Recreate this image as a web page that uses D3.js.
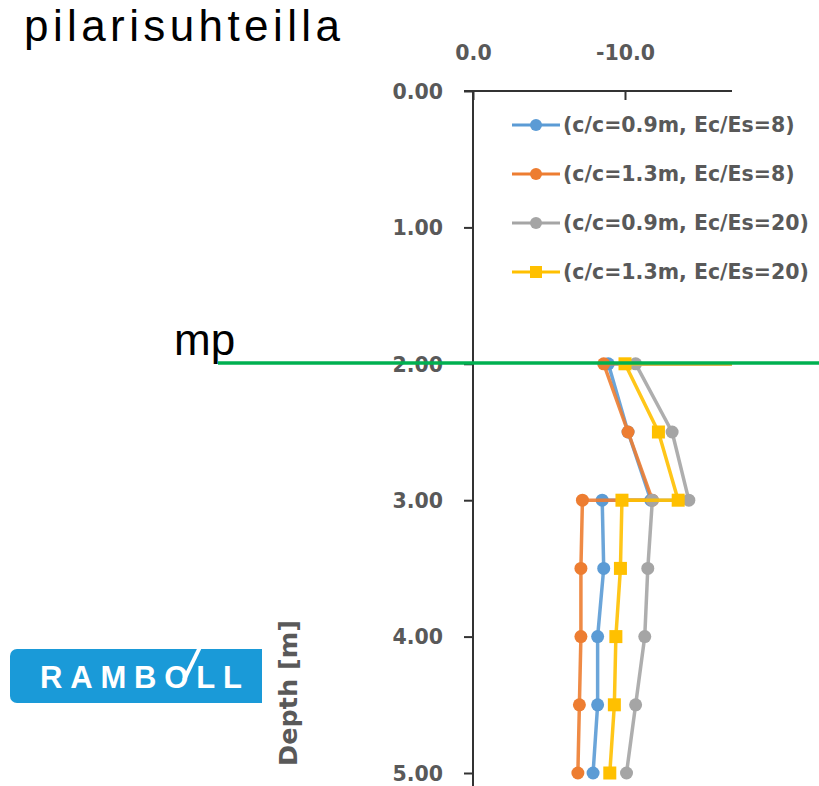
<!DOCTYPE html>
<html>
<head>
<meta charset="utf-8">
<script src="https://cdn.jsdelivr.net/npm/d3@7"></script>
<style>
  html, body { margin: 0; padding: 0; background: #fff; }
  svg { display: block; }
</style>
</head>
<body>
<script>
// ---- data ----
const depths = [2.0, 2.0, 2.5, 3.0, 3.0, 3.5, 4.0, 4.5, 5.0];
const seriesNames = [
  "(c/c=0.9m, Ec/Es=8)",
  "(c/c=1.3m, Ec/Es=8)",
  "(c/c=0.9m, Ec/Es=20)",
  "(c/c=1.3m, Ec/Es=20)"
];
const blueValues   = [-20, -8.9, -10.2, -11.7, -8.5, -8.6, -8.2, -8.2, -7.9];
const orangeValues = [-20, -8.6, -10.2, -11.8, -7.2, -7.1, -7.1, -7.0, -6.9];
const grayValues   = [-20, -10.7, -13.1, -14.2, -11.8, -11.5, -11.3, -10.7, -10.1];
const yellowValues = [-20, -10.0, -12.2, -13.5, -9.8, -9.7, -9.4, -9.3, -9.0];
const xTickValues = [0, -10];
const xTickLabels = ["0.0", "-10.0"];
const yTickValues = [0, 1, 2, 3, 4, 5];
const yTickLabels = ["0.00", "1.00", "2.00", "3.00", "4.00", "5.00"];
const titleText = "pilarisuhteilla";
const markText = "mp";
const axisTitle = "Depth [m]";
const logoText = "RAMBOLL";

const seriesColors = ["#5B9BD5", "#ED7D31", "#A5A5A5", "#FFC000"];
const seriesShapes = ["circle", "circle", "circle", "square"];
const allValues = [blueValues, orangeValues, grayValues, yellowValues];

const W = 819, H = 786;
const svg = d3.select("body").append("svg").attr("width", W).attr("height", H);

const x = d3.scaleLinear().domain([0, -17.04]).range([473, 732]);
const y = d3.scaleLinear().domain([0, 5]).range([91, 773]);

const tickFont = "'DejaVu Sans', sans-serif";
const gray = "#595959";

// clip for plot
svg.append("clipPath").attr("id", "plotclip")
  .append("rect").attr("x", x(0)).attr("y", 0).attr("width", x.range()[1] - x(0)).attr("height", H);

// ---- axes ----
const axisG = svg.append("g");
// x axis (top)
const xAxis = d3.axisTop(x).tickValues(xTickValues).tickSize(-9).tickFormat((d, i) => xTickLabels[i]);
const gx = axisG.append("g").attr("transform", `translate(0,${y(0)})`).call(xAxis);
gx.select(".domain").remove();
gx.selectAll(".tick line").attr("stroke", "#333").attr("stroke-width", 2);
gx.selectAll(".tick text")
  .attr("y", -31).attr("dy", 0)
  .attr("font-family", tickFont).attr("font-weight", "bold").attr("font-size", 20.5)
  .attr("fill", gray);

// y axis (left)
const yAxis = d3.axisLeft(y).tickValues(yTickValues).tickSize(9).tickPadding(21).tickFormat((d, i) => yTickLabels[i]);
const gy = axisG.append("g").attr("transform", `translate(${x(0)},0)`).call(yAxis);
gy.select(".domain").remove();
gy.selectAll(".tick line").attr("stroke", "#333").attr("stroke-width", 2);
gy.selectAll(".tick text")
  .attr("font-family", tickFont).attr("font-weight", "bold").attr("font-size", 20.5)
  .attr("fill", gray).attr("dy", "0.36em");

// axis lines
axisG.append("line").attr("x1", x(0) - 9).attr("x2", x.range()[1]).attr("y1", y(0)).attr("y2", y(0))
  .attr("stroke", "#333").attr("stroke-width", 2);
axisG.append("line").attr("x1", x(0)).attr("x2", x(0)).attr("y1", y(0)).attr("y2", H)
  .attr("stroke", "#333").attr("stroke-width", 2);

// axis title
svg.append("text")
  .attr("transform", `translate(297,${693}) rotate(-90)`)
  .attr("text-anchor", "middle")
  .attr("font-family", tickFont).attr("font-weight", "bold").attr("font-size", 25.5)
  .attr("fill", gray)
  .text(axisTitle);

// ---- series ----
const plot = svg.append("g").attr("clip-path", "url(#plotclip)");
const line = d3.line().x(d => x(d.v)).y(d => y(d.d));

allValues.forEach((vals, si) => {
  const pts = vals.map((v, i) => ({ v, d: depths[i] }));
  const g = plot.append("g");
  g.append("path").datum(pts).attr("d", line)
    .attr("fill", "none").attr("stroke", seriesColors[si]).attr("stroke-width", 3.5)
    .attr("stroke-opacity", 0.9)
    .attr("stroke-linejoin", "round");
  if (seriesShapes[si] === "circle") {
    g.selectAll("circle").data(pts).join("circle")
      .attr("cx", d => x(d.v)).attr("cy", d => y(d.d)).attr("r", 6.5)
      .attr("fill", seriesColors[si]);
  } else {
    g.selectAll("rect").data(pts).join("rect")
      .attr("x", d => x(d.v) - 6.5).attr("y", d => y(d.d) - 6.5)
      .attr("width", 13).attr("height", 13)
      .attr("fill", seriesColors[si]);
  }
});

// ---- legend ----
const legendRows = [125, 174, 223, 272];
const legend = svg.append("g");
seriesNames.forEach((name, i) => {
  const ly = legendRows[i];
  legend.append("line").attr("x1", 512).attr("x2", 560).attr("y1", ly).attr("y2", ly)
    .attr("stroke", seriesColors[i]).attr("stroke-width", 3);
  if (seriesShapes[i] === "circle") {
    legend.append("circle").attr("cx", 536).attr("cy", ly).attr("r", 6).attr("fill", seriesColors[i]);
  } else {
    legend.append("rect").attr("x", 530).attr("y", ly - 6).attr("width", 12).attr("height", 12).attr("fill", seriesColors[i]);
  }
  legend.append("text").attr("x", 563).attr("y", ly).attr("dy", "0.36em")
    .attr("font-family", tickFont).attr("font-weight", "bold").attr("font-size", 20.5)
    .attr("fill", gray).text(name);
});

// ---- annotations ----
svg.append("text").attr("x", 24).attr("y", 41)
  .attr("font-family", "'Liberation Sans', Arial, sans-serif").attr("font-size", 44)
  .attr("fill", "#000").attr("textLength", 316).attr("lengthAdjust", "spacing")
  .text(titleText);

svg.append("text").attr("x", 174).attr("y", 355)
  .attr("font-family", "'Liberation Sans', Arial, sans-serif").attr("font-size", 44)
  .attr("fill", "#000").text(markText);

svg.append("line").attr("x1", 218).attr("x2", W).attr("y1", 363).attr("y2", 363)
  .attr("stroke", "#00B050").attr("stroke-width", 3.5);

// ---- logo ----
const logo = svg.append("g");
const lx = 10, ly0 = 649, lw = 252, lh = 54, r = 7;
logo.append("path")
  .attr("d", `M${lx + r},${ly0} H${lx + lw} V${ly0 + lh} H${lx + r} A${r},${r} 0 0 1 ${lx},${ly0 + lh - r} V${ly0 + r} A${r},${r} 0 0 1 ${lx + r},${ly0} Z`)
  .attr("fill", "#1A9AD8");
logo.append("text").attr("x", 40).attr("y", 688)
  .attr("font-family", "'Liberation Sans', Arial, sans-serif").attr("font-weight", "bold").attr("font-size", 31)
  .attr("fill", "#fff").attr("textLength", 202).attr("lengthAdjust", "spacing")
  .text(logoText);
logo.append("line").attr("x1", 184).attr("y1", 680).attr("x2", 201).attr("y2", 645)
  .attr("stroke", "#fff").attr("stroke-width", 4).attr("stroke-linecap", "butt");
</script>
</body>
</html>
